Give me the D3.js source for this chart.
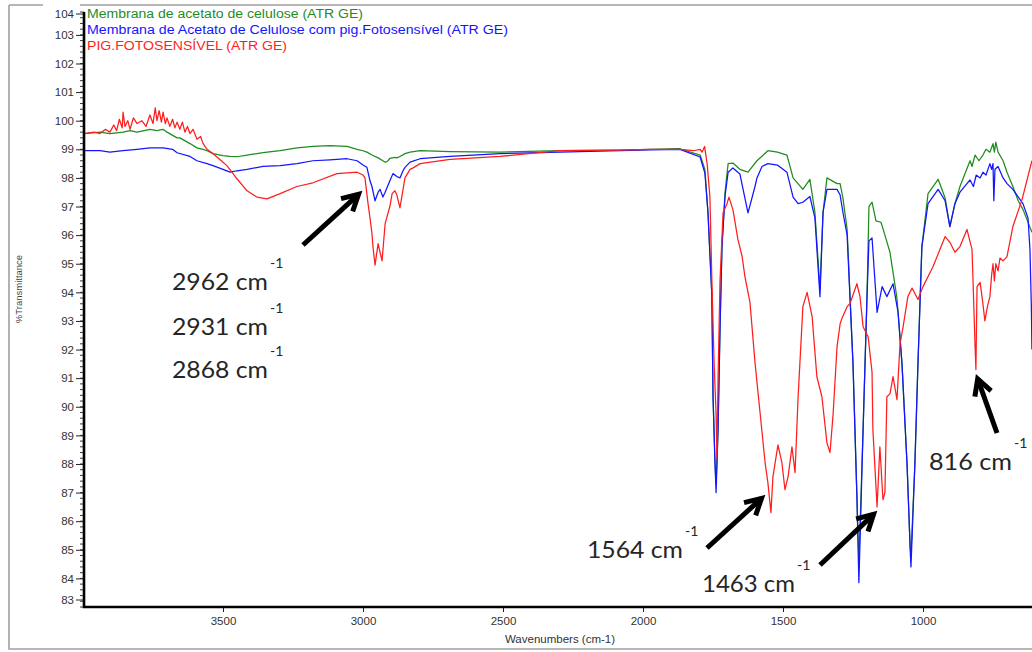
<!DOCTYPE html>
<html><head><meta charset="utf-8">
<script src="https://cdn.jsdelivr.net/npm/d3@7"></script>
<style>body{margin:0;background:#fff;} svg{display:block;}</style>
</head><body><svg id="c" width="1032" height="652"></svg>
<script>
// ---------- DATA ----------
const seriesNames = [
  "Membrana de acetato de celulose (ATR GE)",
  "Membrana de Acetato de Celulose com pig.Fotosensível (ATR GE)",
  "PIG.FOTOSENSÍVEL (ATR GE)"
];
const xTicks = [3500, 3000, 2500, 2000, 1500, 1000];
const yTicks = [84,85,86,87,88,89,90,91,92,93,94,95,96,97,98,99,100,101,102,103];
const yEndLabels = [104, 83];

// [wavenumber cm-1, %T]
const greenSpectrum = [
[3996,99.55],[3939,99.6],[3904,99.55],[3857,99.6],[3832,99.65],[3807,99.6],[3761,99.7],[3736,99.65],[3714,99.7],[3700,99.6],
[3664,99.4],[3654,99.4],[3618,99.2],[3593,99.05],[3571,99.0],[3557,98.95],[3536,98.85],[3500,98.78],[3475,98.75],[3450,98.74],
[3414,98.8],[3379,98.85],[3357,98.88],[3296,98.95],[3236,99.05],[3179,99.1],[3118,99.13],[3057,99.1],[3021,99.0],[3000,98.95],
[2986,98.9],[2968,98.8],[2946,98.7],[2929,98.6],[2921,98.55],[2914,98.57],[2904,98.68],[2886,98.72],[2879,98.7],[2868,98.75],
[2850,98.85],[2832,98.9],[2796,98.95],[2689,98.92],[2511,98.9],[2296,98.95],[2082,98.97],[1975,99.0],[1868,99.02],[1796,98.8],
[1779,98.3],[1768,96.8],[1754,93.9],[1750,90.4],[1743,88.05],[1739,87.3],[1732,89.2],[1725,92.7],[1718,95.6],[1707,97.5],
[1696,98.5],[1679,98.52],[1654,98.3],[1625,98.2],[1593,98.6],[1554,98.95],[1520,98.9],[1486,98.8],[1464,98.0],[1429,97.6],
[1404,97.95],[1386,96.8],[1368,94.1],[1357,96.8],[1343,98.0],[1307,97.8],[1296,97.8],[1286,97.3],[1271,96.2],[1250,91.5],
[1236,86.85],[1229,84.55],[1214,89.2],[1200,93.85],[1193,97.0],[1182,97.15],[1168,96.5],[1150,96.45],[1136,96.0],[1118,95.4],
[1093,93.8],[1075,91.5],[1057,88.0],[1046,85.1],[1043,84.8],[1029,88.0],[1018,91.5],[1004,95.6],[982,97.45],[946,97.95],
[921,97.3],[904,96.3],[886,97.1],[868,97.7],[832,98.6],[825,98.4],[814,98.8],[800,98.6],[786,98.8],[775,99.0],
[761,98.9],[750,99.2],[745,98.9],[740,99.25],[732,98.9],[714,98.6],[700,98.2],[679,97.7],[660,97.2],[643,96.9],[611,96.1]
];

const blueSpectrum = [
[3996,98.95],[3939,98.95],[3904,98.9],[3857,98.95],[3807,99.0],[3761,99.05],[3714,99.05],[3680,99.0],[3664,98.88],[3618,98.75],
[3593,98.6],[3557,98.5],[3536,98.43],[3500,98.3],[3475,98.2],[3450,98.25],[3414,98.3],[3357,98.4],[3296,98.43],[3236,98.5],
[3179,98.6],[3118,98.63],[3057,98.67],[3021,98.6],[3000,98.45],[2986,98.37],[2975,97.9],[2968,97.7],[2957,97.2],[2946,97.5],
[2939,97.6],[2929,97.33],[2921,97.5],[2904,97.9],[2893,98.15],[2879,98.05],[2868,98.0],[2857,98.25],[2850,98.37],[2832,98.55],
[2796,98.67],[2689,98.75],[2511,98.85],[2296,98.9],[2082,98.95],[1975,98.98],[1868,99.0],[1796,98.73],[1779,98.17],[1768,96.8],
[1754,93.86],[1750,90.4],[1743,88.05],[1739,87.0],[1732,89.2],[1725,92.7],[1718,95.6],[1707,97.36],[1696,98.2],[1679,98.35],
[1654,98.14],[1625,96.78],[1600,97.7],[1593,98.0],[1575,98.4],[1554,98.5],[1520,98.45],[1486,98.2],[1464,97.33],[1446,97.1],
[1429,97.15],[1404,97.35],[1386,96.6],[1368,93.85],[1357,96.8],[1343,97.6],[1307,97.6],[1296,97.4],[1286,96.8],[1271,96.0],
[1250,91.5],[1236,86.85],[1229,83.85],[1214,89.2],[1200,93.85],[1193,95.8],[1182,95.9],[1164,93.3],[1146,94.2],[1129,93.85],
[1107,94.3],[1089,93.3],[1075,91.5],[1057,88.0],[1046,85.1],[1043,84.4],[1029,88.0],[1018,91.5],[1004,95.6],[982,97.1],
[946,97.6],[921,97.2],[904,96.3],[886,97.1],[868,97.5],[832,97.93],[820,97.7],[810,98.1],[796,98.0],[786,98.2],
[775,98.1],[761,98.5],[755,98.3],[750,98.5],[747,97.2],[743,98.3],[732,98.4],[714,98.0],[700,97.8],[679,97.6],
[643,97.1],[625,96.6],[618,95.5],[613,93.5],[611,92.0]
];

const redSpectrum = [
[3996,99.55],[3960,99.6],[3939,99.55],[3920,99.7],[3904,99.6],[3890,99.85],[3880,99.65],[3870,100.05],[3860,99.75],[3857,100.3],
[3850,99.8],[3840,100.0],[3832,99.7],[3820,100.1],[3807,99.9],[3790,100.0],[3775,99.8],[3761,100.2],[3750,99.9],[3742,100.45],
[3736,100.0],[3728,100.35],[3720,99.95],[3714,100.3],[3706,99.9],[3700,100.1],[3690,99.8],[3680,100.05],[3672,99.75],[3664,99.95],
[3654,99.7],[3645,99.95],[3636,99.6],[3627,99.8],[3618,99.55],[3607,99.7],[3593,99.35],[3580,99.45],[3571,99.2],[3557,99.0],
[3536,98.85],[3500,98.55],[3486,98.43],[3450,97.97],[3414,97.55],[3379,97.33],[3343,97.27],[3296,97.45],[3236,97.7],[3179,97.83],
[3093,98.15],[3057,98.18],[3021,98.2],[3000,98.1],[2993,98.0],[2982,97.1],[2975,96.6],[2968,96.05],[2964,95.55],[2957,94.95],
[2952,95.3],[2946,95.7],[2939,95.4],[2932,95.1],[2921,96.4],[2904,97.0],[2896,97.45],[2886,97.55],[2879,97.4],[2868,96.95],
[2857,97.6],[2850,98.0],[2832,98.3],[2821,98.35],[2796,98.5],[2689,98.65],[2511,98.75],[2296,98.95],[2082,98.97],[1975,99.0],
[1868,99.0],[1820,98.95],[1796,99.0],[1789,98.9],[1780,99.1],[1771,98.5],[1761,97.33],[1754,94.4],[1746,91.5],[1739,89.75],
[1736,88.2],[1732,90.95],[1725,94.4],[1714,96.78],[1700,97.1],[1693,97.33],[1679,96.9],[1661,95.85],[1646,95.25],[1636,94.55],
[1618,93.65],[1600,91.55],[1582,89.8],[1564,88.05],[1554,87.35],[1543,86.3],[1536,87.55],[1518,88.67],[1504,88.05],[1493,87.1],
[1482,87.55],[1468,88.6],[1457,87.7],[1446,90.35],[1429,93.5],[1414,94.0],[1396,93.15],[1379,91.05],[1361,90.35],[1343,88.73],
[1332,88.4],[1321,89.75],[1307,92.1],[1296,92.9],[1289,93.1],[1271,93.5],[1261,93.6],[1236,94.3],[1225,93.85],[1214,92.8],
[1196,92.45],[1182,91.2],[1179,89.2],[1164,86.5],[1154,88.6],[1143,86.75],[1136,87.0],[1129,90.35],[1118,90.45],[1107,91.05],
[1093,90.25],[1082,92.2],[1071,92.8],[1054,93.85],[1039,94.15],[1018,93.75],[1000,94.2],[964,94.9],[921,95.95],[904,95.75],
[886,95.4],[868,95.6],[843,96.2],[825,95.5],[821,94.3],[814,92.1],[811,91.3],[807,94.2],[796,94.35],[786,93.6],
[779,93.0],[770,93.5],[761,93.85],[755,94.6],[750,95.0],[745,94.4],[740,95.0],[732,94.75],[725,95.2],[714,95.1],
[700,95.25],[679,96.3],[646,97.25],[611,98.6]
];

const annotationTexts = ["2962 cm","2931 cm","2868 cm","1564 cm","1463 cm","816 cm"];

// ---------- LAYOUT ----------
const colors = ["#1f8c1f", "#1414ff", "#ff1e1e"];
const svg = d3.select("#c");
const x = d3.scaleLinear().domain([4000, 600]).range([83, 1035]);
const y = d3.scaleLinear().domain([83, 103.8]).range([607, 12]);
const fontAx = "Arial, 'Liberation Sans', sans-serif";

// outer frame
const frame = svg.append("g").attr("stroke", "#a0a0a0").attr("stroke-width", 1.6).attr("fill", "none");
frame.append("path").attr("d", "M9,5 H43 M80,5 H1032 M9,5 V649 H1032");

// clip
svg.append("clipPath").attr("id", "clip").append("rect")
  .attr("x", 84).attr("y", 8).attr("width", 1032 - 84).attr("height", 607 - 8);

// spectra
const line = d3.line().x(d => x(d[0])).y(d => y(d[1]));
const plot = svg.append("g").attr("clip-path", "url(#clip)");
[greenSpectrum, blueSpectrum, redSpectrum].forEach((s, i) => {
  plot.append("path").datum(s).attr("d", line)
    .attr("fill", "none").attr("stroke", colors[i]).attr("stroke-width", 1.25)
    .attr("stroke-linejoin", "round");
});

// y axis
const yAxis = d3.axisLeft(y).tickValues(yTicks).tickSize(8).tickPadding(2).tickFormat(d3.format("d"));
const gy = svg.append("g").attr("transform", "translate(84,0)").call(yAxis);
gy.select(".domain").remove();
gy.selectAll(".tick line").attr("stroke", "#222").attr("stroke-width", 1);
gy.selectAll(".tick text").attr("font-family", fontAx).attr("font-size", 11.5).attr("fill", "#333");
// minor ticks
svg.append("g").selectAll("line").data(d3.range(83, 103.81, 0.2)).join("line")
  .attr("x1", 80).attr("x2", 84).attr("y1", d => y(d)).attr("y2", d => y(d))
  .attr("stroke", "#222").attr("stroke-width", 0.9);
// end labels (104 at top, 83 at bottom)
svg.append("g").selectAll("text").data(yEndLabels).join("text")
  .attr("x", 74).attr("y", (d, i) => i === 0 ? y(103.8) + 6 : y(83) - 3)
  .attr("text-anchor", "end").attr("font-family", fontAx).attr("font-size", 11.5).attr("fill", "#333")
  .text(d => d);
svg.append("g").selectAll("line").data(yEndLabels).join("line")
  .attr("x1", 76).attr("x2", 84)
  .attr("y1", (d, i) => i === 0 ? y(103.8) + 2 : y(83) - 7).attr("y2", (d, i) => i === 0 ? y(103.8) + 2 : y(83) - 7)
  .attr("stroke", "#222").attr("stroke-width", 1);

// x axis
const xAxis = d3.axisBottom(x).tickValues(xTicks).tickSize(5).tickPadding(5).tickFormat(d3.format("d"));
const gx = svg.append("g").attr("transform", "translate(0,607)").call(xAxis);
gx.select(".domain").remove();
gx.selectAll(".tick line").attr("stroke", "#222");
gx.selectAll(".tick text").attr("font-family", fontAx).attr("font-size", 11.5).attr("fill", "#333");

// axis lines
svg.append("path").attr("d", "M84,12 V607 H1032").attr("fill", "none")
  .attr("stroke", "#000").attr("stroke-width", 2.6);

// axis titles
svg.append("text").attr("x", 560).attr("y", 643).attr("text-anchor", "middle")
  .attr("font-family", fontAx).attr("font-size", 11.5).attr("fill", "#333").text("Wavenumbers (cm-1)");
svg.append("text").attr("transform", "translate(22,289) rotate(-90)").attr("text-anchor", "middle")
  .attr("font-family", fontAx).attr("font-size", 9.5).attr("fill", "#444").text("%Transmittance");

// legend
const legendW = [276, 421, 200];
svg.append("g").selectAll("text").data(seriesNames).join("text")
  .attr("x", 87).attr("y", (d, i) => 18 + i * 16)
  .attr("font-family", fontAx).attr("font-size", 12).attr("fill", (d, i) => colors[i])
  .attr("textLength", (d, i) => legendW[i]).attr("lengthAdjust", "spacingAndGlyphs")
  .text(d => d);

// annotations
const annPos = [[172, 290], [172, 335], [172, 378], [587, 558], [702, 592], [929, 470]];
const annW = [96, 96, 96, 96, 93, 83];
const ann = svg.append("g").attr("font-family", "Lato, 'Open Sans', sans-serif").attr("fill", "#262626");
annotationTexts.forEach((t, i) => {
  const [ax, ay] = annPos[i];
  ann.append("text").attr("x", ax).attr("y", ay).attr("font-size", 24)
    .attr("textLength", annW[i]).attr("lengthAdjust", "spacingAndGlyphs").text(t);
  ann.append("text").attr("x", ax + annW[i] + 2).attr("y", ay - 22).attr("font-size", 14).text("-1");
});

// arrows
const arrows = [[303, 245, 360, 193], [707, 548, 763, 497], [820, 565, 875, 513], [997, 433, 977, 377]];
const ag = svg.append("g").attr("stroke", "#000").attr("fill", "none")
  .attr("stroke-width", 5).attr("stroke-linejoin", "miter");
arrows.forEach(([x1, y1, x2, y2]) => {
  const ang = Math.atan2(y2 - y1, x2 - x1);
  const L = 18, a = 0.5;
  const tx = x2 - 2 * Math.cos(ang), ty = y2 - 2 * Math.sin(ang);
  ag.append("line").attr("x1", x1).attr("y1", y1).attr("x2", tx).attr("y2", ty);
  const p1 = [tx - L * Math.cos(ang - a), ty - L * Math.sin(ang - a)];
  const p2 = [tx - L * Math.cos(ang + a), ty - L * Math.sin(ang + a)];
  ag.append("path").attr("d", `M${p1} L${tx},${ty} L${p2}`);
});
</script>
</body></html>
